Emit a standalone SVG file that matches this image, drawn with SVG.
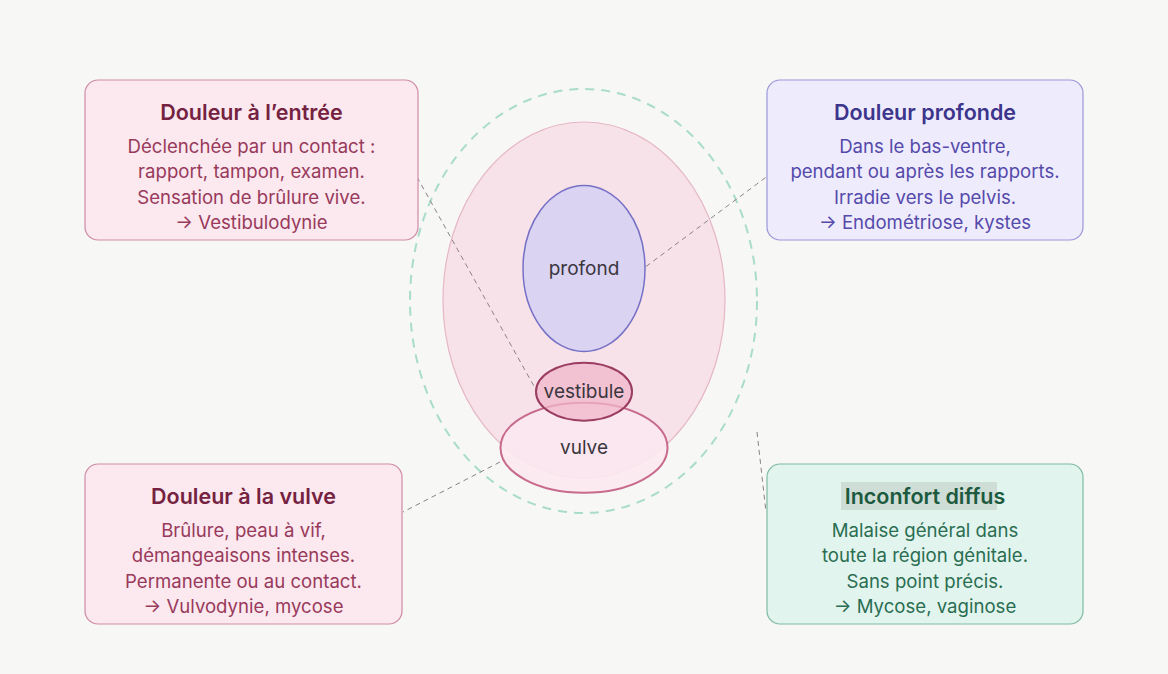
<svg xmlns="http://www.w3.org/2000/svg" width="1168" height="674" viewBox="0 0 1168 674">
<style>
text{font-family:Inter,"Noto Sans","Liberation Sans",sans-serif;text-anchor:middle}
.t{font-size:21.5px;font-weight:600}
.b{font-size:18.6px}
.lbl{font-size:19px;fill:#3b3640}
.conn{stroke:#8a8388;stroke-width:1;stroke-dasharray:5 4;fill:none}
.c1 .t,.c3 .t{fill:#74223f}.c1 .b,.c3 .b{fill:#983a5b}
.c1 rect,.c3 rect{fill:#fce8ef;stroke:#cd8ba4;stroke-width:1.2}
.c2 rect{fill:#eeecfc;stroke:#9c97da;stroke-width:1.2}.c2 .t{fill:#3d348c}.c2 .b{fill:#5549ab}
.c4 rect.box{fill:#e2f4ee;stroke:#7fbba3;stroke-width:1.2}.c4 .t{fill:#1c5a3f}.c4 .b{fill:#2a6e52}
</style>
<rect width="1168" height="674" fill="#f7f7f5"/>
<g id="zones">
<ellipse id="diffus" cx="583.5" cy="301" rx="173.5" ry="212" fill="none" stroke="#a9dccb" stroke-width="2" stroke-dasharray="9 7"/>
<ellipse id="bassin" cx="584" cy="300" rx="141" ry="178" fill="#f6e2e8" stroke="#e6b7c6" stroke-width="1.2"/>
<g id="profond"><ellipse cx="584" cy="268.5" rx="61" ry="83" fill="#dad3f2" stroke="#7670c6" stroke-width="1.5"/><text class="lbl" x="584" y="275">profond</text></g>
<g id="vulve"><ellipse cx="584" cy="447.7" rx="83.5" ry="45" fill="#fbe8ef" fill-opacity="0.9" stroke="#c76a8c" stroke-width="2"/><text class="lbl" x="584" y="454">vulve</text></g>
<g id="vestibule"><ellipse cx="584" cy="391.7" rx="48" ry="29" fill="#f0b7cb" fill-opacity="0.75" stroke="#9b3c61" stroke-width="2"/><text class="lbl" x="584" y="398">vestibule</text></g>
</g>
<g id="connectors">
<line class="conn" x1="417" y1="177" x2="535" y2="388"/>
<line class="conn" x1="646" y1="266.5" x2="767" y2="176.5"/>
<line class="conn" x1="500" y1="462" x2="403" y2="512"/>
<line class="conn" x1="757" y1="432" x2="766" y2="512"/>
</g>
<g id="entree" class="c1">
<rect x="85" y="80" width="333" height="160" rx="13"/>
<text class="t" x="251.5" y="119.5">Douleur à l’entrée</text>
<text class="b" x="251.5" y="152.5">Déclenchée par un contact :</text>
<text class="b" x="251.5" y="178">rapport, tampon, examen.</text>
<text class="b" x="251.5" y="203.5">Sensation de brûlure vive.</text>
<text class="b" x="251.5" y="229">→ Vestibulodynie</text>
</g>
<g id="profonde" class="c2">
<rect x="767" y="80" width="316" height="160" rx="13"/>
<text class="t" x="925" y="119.5">Douleur profonde</text>
<text class="b" x="925" y="152.5">Dans le bas-ventre,</text>
<text class="b" x="925" y="178">pendant ou après les rapports.</text>
<text class="b" x="925" y="203.5">Irradie vers le pelvis.</text>
<text class="b" x="925" y="229">→ Endométriose, kystes</text>
</g>
<g id="vulvebox" class="c3">
<rect x="85" y="464" width="317" height="160" rx="13"/>
<text class="t" x="243.5" y="503.5">Douleur à la vulve</text>
<text class="b" x="243.5" y="536.5">Brûlure, peau à vif,</text>
<text class="b" x="243.5" y="562">démangeaisons intenses.</text>
<text class="b" x="243.5" y="587.5">Permanente ou au contact.</text>
<text class="b" x="243.5" y="613">→ Vulvodynie, mycose</text>
</g>
<g id="inconfort" class="c4">
<rect class="box" x="767" y="464" width="316" height="160" rx="13"/>
<rect x="841" y="482" width="156" height="28" fill="#cfddd7"/>
<text class="t" x="925" y="503.5">Inconfort diffus</text>
<text class="b" x="925" y="536.5">Malaise général dans</text>
<text class="b" x="925" y="562">toute la région génitale.</text>
<text class="b" x="925" y="587.5">Sans point précis.</text>
<text class="b" x="925" y="613">→ Mycose, vaginose</text>
</g>
</svg>
